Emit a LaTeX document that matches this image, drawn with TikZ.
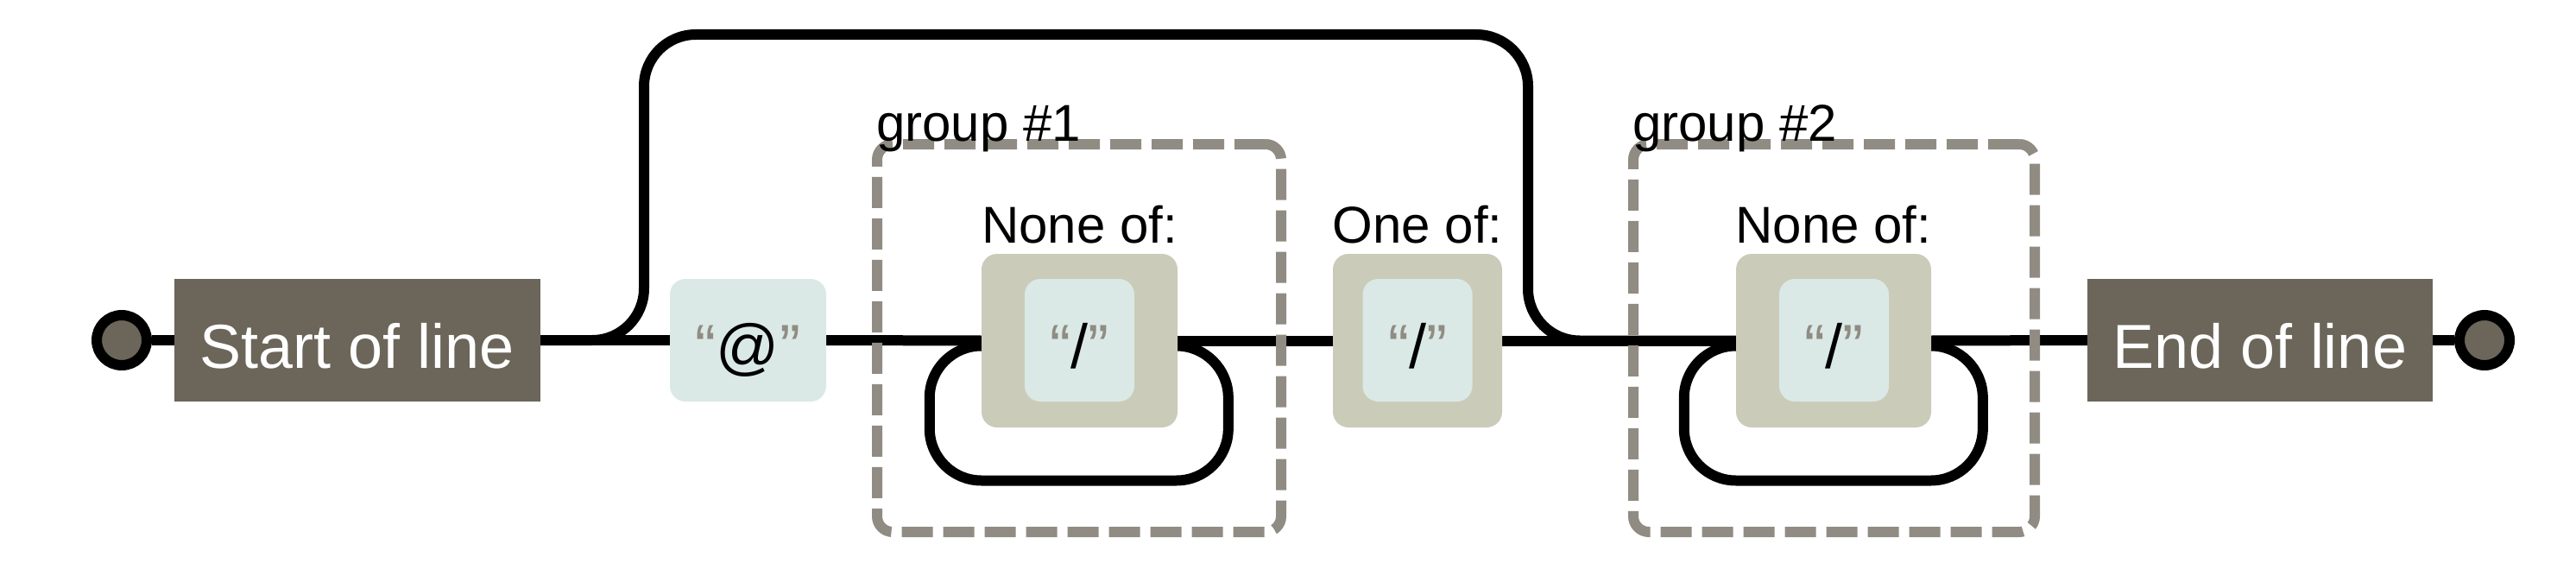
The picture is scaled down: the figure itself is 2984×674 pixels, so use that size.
\documentclass[tikz,border=0pt]{standalone}
\usepackage{fontspec}
\setmainfont{Liberation Sans}
\pgfdeclarelayer{bg}
\pgfdeclarelayer{mid}
\pgfsetlayers{bg,mid,main}
\definecolor{anchorc}{HTML}{6B6659}
\definecolor{litc}{HTML}{DAE9E5}
\definecolor{setc}{HTML}{CBCBBA}
\definecolor{groupc}{HTML}{908C83}
\newcommand\qmk[1]{{\color{groupc}#1}}
\tikzset{
  rail/.style={draw=black, line width=12pt},
  anchorbox/.style={fill=anchorc, text=white, inner sep=0pt, minimum height=142pt,
    font=\fontsize{72}{72}\selectfont, text height=64pt, text depth=0pt},
  litbox/.style={fill=litc, rounded corners=18pt, inner sep=0pt, minimum height=142pt,
    font=\fontsize{72}{72}\selectfont, text height=64pt, text depth=0pt},
  setbox/.style={fill=setc, rounded corners=18pt, inner sep=0pt, minimum height=201pt},
  groupbox/.style={draw=groupc, line width=12pt, dash pattern=on 36pt off 12pt,
    rounded corners=18pt, inner sep=0pt, minimum height=449pt},
  endpt/.style={circle, draw=black, line width=12pt, fill=anchorc, minimum size=58pt, inner sep=0pt},
  lbl/.style={font=\fontsize{60}{60}\selectfont, inner sep=0pt},
}
\begin{document}
\begin{tikzpicture}[x=1pt,y=-1pt]
\useasboundingbox (0,0) rectangle (2984,674);

% terminals and anchors
\node[endpt] (s0) at (141,394) {};
\node[anchorbox, minimum width=424pt] (start) at (414,394) {Start of line};
\node[litbox, minimum width=181pt] (lit) at (866.5,394) {\qmk{“}@\qmk{”}};

% group 1
\begin{pgfonlayer}{mid}
\node[groupbox, minimum width=468pt] (g1) at (1250,391.5) {};
\node[groupbox, minimum width=465pt] (g2) at (2124.5,391.5) {};
\end{pgfonlayer}
\node[lbl, anchor=base west] (g1l) at (1015,163) {group \#1};
\node[lbl, anchor=base west] (g2l) at (1891,163) {group \#2};

\node[setbox, minimum width=227pt] (nob1) at (1250.5,394.5) {};
\node[litbox, minimum width=127pt] (nob1i) at (1250.5,394) {\qmk{“}/\qmk{”}};
\node[lbl, anchor=base] (nob1l) at (1250.5,281) {None of:};

\node[setbox, minimum width=196pt] (one) at (1642,394.5) {};
\node[litbox, minimum width=127pt] (onei) at (1642,394) {\qmk{“}/\qmk{”}};
\node[lbl, anchor=base] (onel) at (1642,281) {One of:};

\node[setbox, minimum width=226pt] (nob2) at (2124,394.5) {};
\node[litbox, minimum width=127pt] (nob2i) at (2124.5,394) {\qmk{“}/\qmk{”}};
\node[lbl, anchor=base] (nob2l) at (2124,281) {None of:};

\node[anchorbox, minimum width=400pt] (end) at (2618,394) {End of line};
\node[endpt] (e0) at (2878,394) {};

\coordinate (byL) at (746,40);
\coordinate (byR) at (1770,40);

\begin{pgfonlayer}{bg}
\draw[rail] (s0) -- (start);
\draw[rail] (start.east) -- (lit.west);
\draw[rail] (lit.east) -- (nob1.west);
\draw[rail] (nob1.east) -- (one.west);
\draw[rail] (one.east) -- (nob2.west);
\draw[rail] (nob2.east) -- (end.west);
\draw[rail] (end.east) -- (e0);
% optional bypass
\draw[rail, rounded corners=60pt] (start.east) -| (byL) -- (byR) |- (nob2.west);
% repeat loops
\draw[rail, rounded corners=60pt] ([yshift=-6pt]nob1.west) -- ++(-60,0) -- ++(0,156)
  -- ++(346,0) -- ++(0,-156) -- ([yshift=-6pt]nob1.east);
\draw[rail, rounded corners=60pt] ([yshift=-6pt]nob2.west) -- ++(-60,0) -- ++(0,156)
  -- ++(346,0) -- ++(0,-156) -- ([yshift=-6pt]nob2.east);
\end{pgfonlayer}
\end{tikzpicture}
\end{document}
